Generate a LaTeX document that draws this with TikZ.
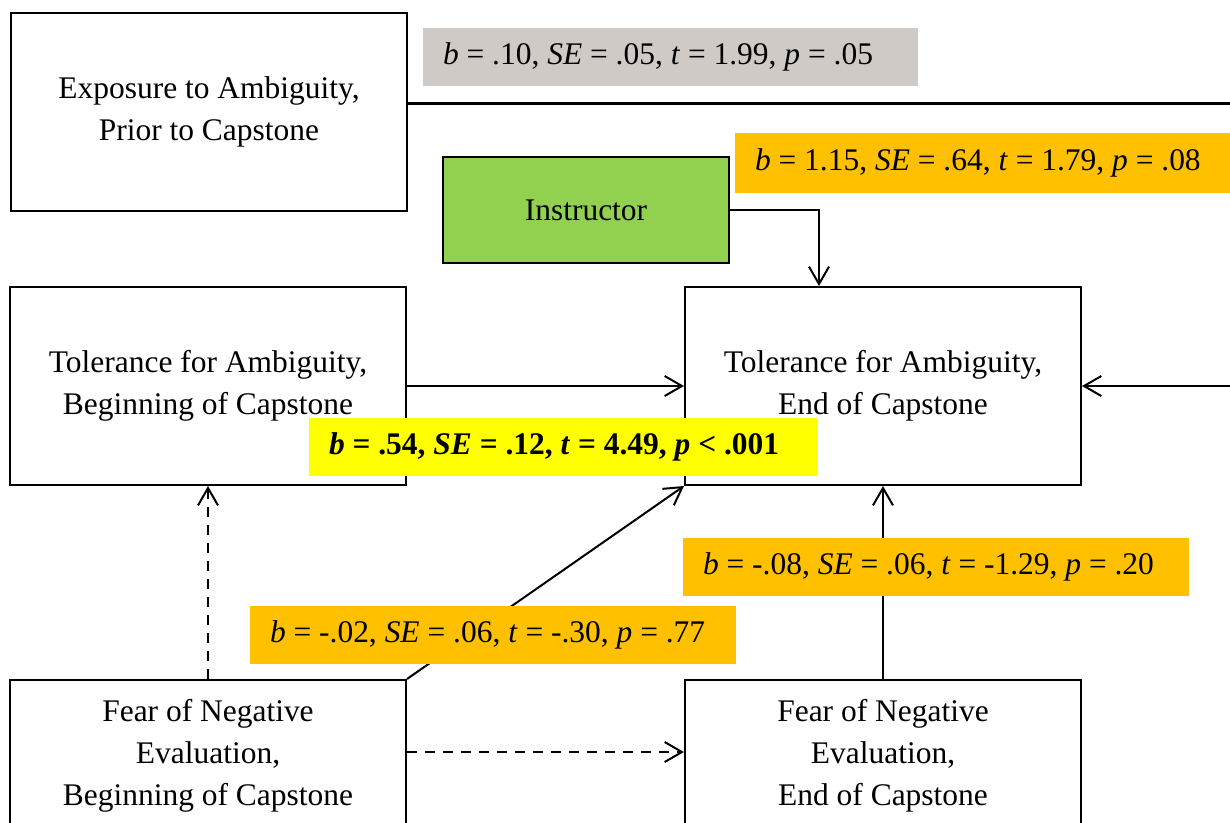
\documentclass[tikz,border=0pt]{standalone}
\usepackage{fontspec}
\setmainfont{Liberation Serif}
\usetikzlibrary{arrows.meta}

\definecolor{statgray}{RGB}{208,202,198}
\definecolor{statorange}{RGB}{255,192,0}
\definecolor{statyellow}{RGB}{255,255,0}
\definecolor{instrgreen}{RGB}{146,208,80}

\begin{document}
\begin{tikzpicture}[
    x=0.75pt, y=-0.75pt,
    font=\fontsize{23.6}{31.5}\selectfont,
    box/.style={rectangle, draw, line width=1.5pt, align=center, inner sep=0pt, minimum width=297pt, minimum height=148.5pt},
    stat/.style={rectangle, inner xsep=15pt, inner ysep=0pt, minimum height=43.5pt, align=flush left},
    arrow/.style={-{Straight Barb[length=13pt, width=15pt, line width=1.5pt]}, line width=1.5pt},
    dasharrow/.style={arrow, dash pattern=on 7.5pt off 6pt}
]
\useasboundingbox (0,0) rectangle (1230,822);
\clip (0,0) rectangle (1230,822);

% boxes
\node[box] (expo) at (209,111.5) {Exposure to Ambiguity,\\Prior to Capstone};
\node[box, fill=instrgreen, minimum width=214.5pt, minimum height=79.5pt] (instr) at (586,210) {Instructor};
\node[box] (tfaBeg) at (208,386) {Tolerance for Ambiguity,\\Beginning of Capstone};
\node[box] (tfaEnd) at (883,386) {Tolerance for Ambiguity,\\End of Capstone};
\node[box, minimum height=114pt] (fneBeg) at (208,756) {Fear of Negative\\Evaluation,\\Beginning of Capstone};
\node[box, minimum height=114pt] (fneEnd) at (883,756) {Fear of Negative\\Evaluation,\\End of Capstone};

% paths leaving the picture
\coordinate (offTop) at (1230,103);
\coordinate (offR) at (1230,386);

% connectors
\draw[line width=2.25pt] (offTop -| expo.east) -- (offTop);
\draw[arrow] (instr.east) -| ([xshift=-48pt]tfaEnd.north);
\draw[arrow] (tfaBeg.east) -- (tfaEnd.west);
\draw[arrow] (offR) -- (tfaEnd.east);
\draw[arrow] (fneEnd.north) -- (tfaEnd.south);
\draw[arrow] (fneBeg.north east) -- (tfaEnd.south west);
\draw[dasharrow] (fneBeg.north) -- (tfaBeg.south);
\draw[dasharrow] ([yshift=3pt]fneBeg.east) -- ([yshift=3pt]fneEnd.west);

% coefficients
\node[stat, fill=statgray, text width=341.25pt] (bExpo) at (670.5,57)
    {\mbox{\textit{b} = .10, \textit{SE} = .05, \textit{t} = 1.99, \textit{p} = .05}};
\node[stat, fill=statorange, text width=356.25pt, minimum height=45pt] (bInstr) at (992.5,163)
    {\mbox{\textit{b} = 1.15, \textit{SE} = .64, \textit{t} = 1.79, \textit{p} = .08}};
\node[stat, fill=statyellow, text width=351.75pt, font=\fontsize{23.6}{31.5}\selectfont\bfseries] (bTfa) at (563.5,447)
    {\mbox{\textit{b} = .54, \textit{SE} = .12, \textit{t} = 4.49, \textit{p} {\textless} .001}};
\node[stat, fill=statorange, text width=349.5pt] (bFneEnd) at (936,567)
    {\mbox{\textit{b} = -.08, \textit{SE} = .06, \textit{t} = -1.29, \textit{p} = .20}};
\node[stat, fill=statorange, text width=334.5pt] (bFneBeg) at (493,634.5)
    {\mbox{\textit{b} = -.02, \textit{SE} = .06, \textit{t} = -.30, \textit{p} = .77}};
\end{tikzpicture}
\end{document}
